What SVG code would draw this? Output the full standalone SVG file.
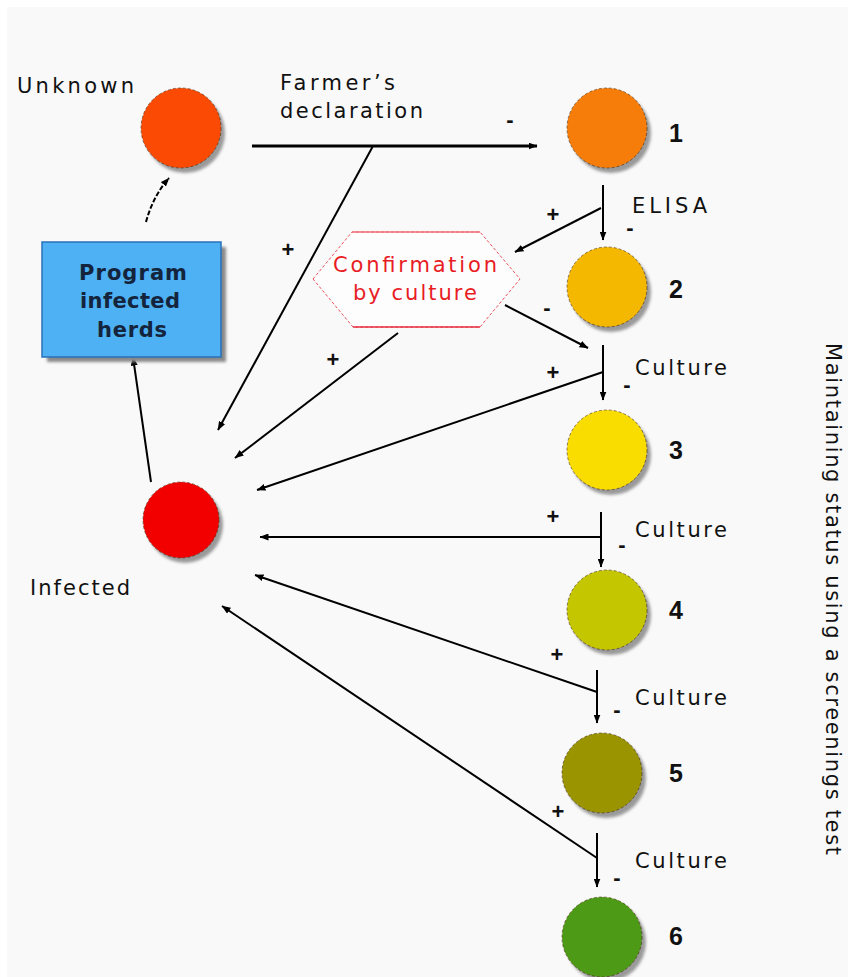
<svg xmlns="http://www.w3.org/2000/svg" width="848" height="977" viewBox="0 0 848 977">
<defs>
<style>
.lbl{font-family:"DejaVu Sans","Liberation Sans",sans-serif;font-size:21px;fill:#111;}
.num{font-family:"Liberation Sans",Arial,sans-serif;font-size:25px;font-weight:bold;fill:#111;}
.sgn{font-family:"Liberation Sans",Arial,sans-serif;font-size:22px;font-weight:bold;fill:#111;text-anchor:middle;}
.box{font-family:"DejaVu Sans","Liberation Sans",sans-serif;font-size:21px;font-weight:bold;fill:#14243c;text-anchor:middle;}
.red{font-family:"DejaVu Sans","Liberation Sans",sans-serif;font-size:21px;fill:#e81c24;}
.con{stroke:#000;stroke-width:2;fill:none;marker-end:url(#ah);}
.node{stroke:rgba(60,30,0,0.55);stroke-width:1;stroke-dasharray:3 2;}
.shadow{fill:#9a9a9a;filter:url(#blur);}
</style>
<marker id="ah" viewBox="0 0 9 7" refX="8.5" refY="3.5" markerWidth="9" markerHeight="7" markerUnits="userSpaceOnUse" orient="auto">
<path d="M0,0 L9,3.5 L0,7 z" fill="#000"/>
</marker>
<filter id="blur" x="-20%" y="-20%" width="140%" height="140%"><feGaussianBlur stdDeviation="1.5"/></filter>
</defs>
<rect x="0" y="0" width="848" height="977" fill="#ffffff"/>
<rect x="7" y="7" width="841" height="970" fill="#f9f9f9"/>

<g id="connectors">
<line class="con" x1="252" y1="146" x2="537" y2="146" style="stroke-width:3"/>
<line class="con" x1="373" y1="146" x2="218" y2="430"/>
<line class="con" x1="603" y1="185" x2="603" y2="240"/>
<line class="con" x1="601" y1="208" x2="515" y2="252"/>
<line class="con" x1="505" y1="305" x2="588" y2="348"/>
<line class="con" x1="603" y1="345" x2="603" y2="400"/>
<line class="con" x1="603" y1="372" x2="257" y2="490"/>
<line class="con" x1="398" y1="333" x2="235" y2="458"/>
<line class="con" x1="601" y1="512" x2="601" y2="567"/>
<line class="con" x1="601" y1="537" x2="260" y2="537"/>
<line class="con" x1="597" y1="670" x2="597" y2="723"/>
<line class="con" x1="597" y1="692" x2="255" y2="575"/>
<line class="con" x1="597" y1="833" x2="597" y2="887"/>
<line class="con" x1="597" y1="858" x2="222" y2="606"/>
<line class="con" x1="151" y1="482" x2="133" y2="357"/>
<path class="con" d="M146,222 Q153,196 169,178" style="stroke-dasharray:5 2"/>
</g>

<g id="signs">
<text class="sgn" x="288" y="257">+</text>
<text class="sgn" x="553" y="222">+</text>
<text class="sgn" x="333" y="367">+</text>
<text class="sgn" x="553" y="380">+</text>
<text class="sgn" x="553" y="524">+</text>
<text class="sgn" x="557" y="662">+</text>
<text class="sgn" x="558" y="819">+</text>
<text class="sgn" x="510" y="127">-</text>
<text class="sgn" x="630" y="235">-</text>
<text class="sgn" x="547" y="315">-</text>
<text class="sgn" x="627" y="392">-</text>
<text class="sgn" x="622" y="552">-</text>
<text class="sgn" x="617" y="717">-</text>
<text class="sgn" x="617" y="885">-</text>
</g>

<g id="edge-labels">
<text class="lbl" x="280" y="90" textLength="115" lengthAdjust="spacing">Farmer’s</text>
<text class="lbl" x="280" y="118" textLength="143" lengthAdjust="spacing">declaration</text>
<text class="lbl" x="632" y="213" textLength="75" lengthAdjust="spacing">ELISA</text>
<text class="lbl" x="635" y="375" textLength="92" lengthAdjust="spacing">Culture</text>
<text class="lbl" x="635" y="537" textLength="92" lengthAdjust="spacing">Culture</text>
<text class="lbl" x="635" y="705" textLength="92" lengthAdjust="spacing">Culture</text>
<text class="lbl" x="635" y="868" textLength="92" lengthAdjust="spacing">Culture</text>
</g>

<g id="unknown">
<circle class="shadow" cx="185" cy="133" r="40"/>
<circle class="node" cx="181" cy="128" r="40" fill="#fa4a04"/>
<text class="lbl" x="17" y="93" textLength="117" lengthAdjust="spacing">Unknown</text>
</g>

<g id="program">
<rect x="47" y="247" width="179" height="115" fill="#8a8a8a" filter="url(#blur)"/>
<rect x="42" y="242" width="179" height="115" fill="#4db1f3" stroke="#2a70b8" stroke-width="1.5"/>
<text class="box" x="133" y="280" textLength="108" lengthAdjust="spacing">Program</text>
<text class="box" x="130" y="308" textLength="100" lengthAdjust="spacing">infected</text>
<text class="box" x="132" y="337" textLength="70" lengthAdjust="spacing">herds</text>
</g>

<g id="infected">
<circle class="shadow" cx="185" cy="525" r="38"/>
<circle class="node" cx="181" cy="520" r="38" fill="#f20000"/>
<text class="lbl" x="30" y="595" textLength="100" lengthAdjust="spacing">Infected</text>
</g>

<g id="confirmation">
<polygon points="313,279 352,232 480,232 520,279 480,327 353,327" fill="#fdfdfd" stroke="#e8505a" stroke-width="1" stroke-dasharray="3 2"/>
<line x1="352" y1="232" x2="480" y2="232" stroke="#f07078" stroke-width="1.5"/>
<line x1="353" y1="327" x2="480" y2="327" stroke="#e83040" stroke-width="1.5"/>
<text class="red" x="333" y="272" textLength="164" lengthAdjust="spacing">Confirmation</text>
<text class="red" x="353" y="300" textLength="124" lengthAdjust="spacing">by culture</text>
</g>

<g id="status1">
<circle class="shadow" cx="611" cy="133" r="40"/>
<circle class="node" cx="607" cy="128" r="40" fill="#f67d0a"/>
<text class="num" x="669" y="142">1</text>
</g>
<g id="status2">
<circle class="shadow" cx="611" cy="292" r="40"/>
<circle class="node" cx="607" cy="287" r="40" fill="#f4b800"/>
<text class="num" x="669" y="298">2</text>
</g>
<g id="status3">
<circle class="shadow" cx="611" cy="455" r="40"/>
<circle class="node" cx="607" cy="450" r="40" fill="#f9dc00"/>
<text class="num" x="669" y="459">3</text>
</g>
<g id="status4">
<circle class="shadow" cx="611" cy="615" r="40"/>
<circle class="node" cx="607" cy="610" r="40" fill="#c4c600"/>
<text class="num" x="669" y="619">4</text>
</g>
<g id="status5">
<circle class="shadow" cx="606" cy="778" r="40"/>
<circle class="node" cx="602" cy="773" r="40" fill="#999400"/>
<text class="num" x="669" y="782">5</text>
</g>
<g id="status6">
<circle class="shadow" cx="606" cy="942" r="40"/>
<circle class="node" cx="602" cy="937" r="40" fill="#4d9a16"/>
<text class="num" x="669" y="945">6</text>
</g>

<g id="side-label">
<text class="lbl" transform="translate(826,343) rotate(90)" textLength="512" lengthAdjust="spacing">Maintaining status using a screenings test</text>
</g>
</svg>
